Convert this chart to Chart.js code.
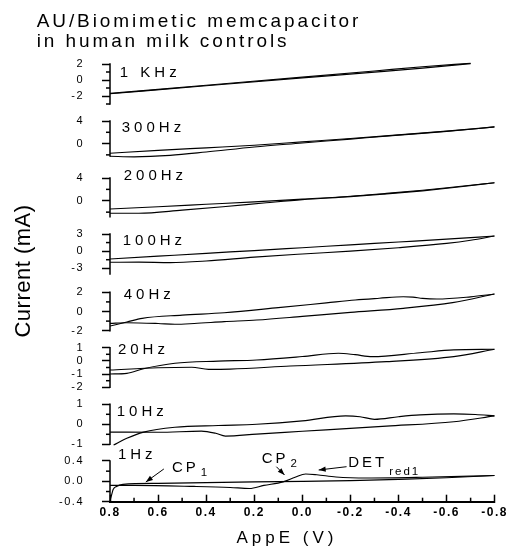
<!DOCTYPE html>
<html>
<head>
<meta charset="utf-8">
<script src="https://cdn.jsdelivr.net/npm/chart.js@4.4.0/dist/chart.umd.min.js"></script>
<style>
  html, body { margin: 0; padding: 0; background: #fff; }
  #c { display: block; }
</style>
</head>
<body>
<canvas id="c" width="516" height="548"></canvas>
<script>
const FONT = "'Liberation Sans', Arial, Helvetica, sans-serif";

// Applied potential (V), scanned between +0.8 and -0.8
const potentialTicks = [0.8, 0.6, 0.4, 0.2, 0.0, -0.2, -0.4, -0.6, -0.8];
const potentialMinorTicks = [0.7, 0.5, 0.3, 0.1, -0.1, -0.3, -0.5, -0.7];

// Panels from top to bottom
const frequencyLabels = ['1 KHz', '300Hz', '200Hz', '100Hz', '40Hz', '20Hz', '10Hz', '1Hz'];

// Current axis (mA) of each panel: visible range, labelled ticks, minor ticks
const currentRanges = [[-3, 2], [-2.2, 4], [-2.8, 4], [-4, 3], [-2, 2], [-2, 1], [-1, 1], [-0.4, 0.4]];
const currentTicks = [[2, 0, -2], [4, 0], [4, 0], [3, 0, -3], [2, 0, -2], [1, 0, -1, -2], [1, 0, -1], [0.4, 0, -0.4]];
const currentMinorTicks = [[1, -1, -3], [2, -2], [2, -2], [1.5, -1.5], [1, -1], [0.5, -0.5, -1.5], [0.5, -0.5], [0.2, -0.2]];

// ---- cyclic voltammograms: potential (V) / current (mA), two branches each ----
// 1 KHz
const E_1k_a = [0.8, 0.4, 0.0, -0.3, -0.5, -0.7];
const I_1k_a = [-1.68, -0.66, 0.36, 1.13, 1.65, 2.1];
const E_1k_b = [0.8, 0.4, 0.0, -0.3, -0.5, -0.7];
const I_1k_b = [-1.72, -0.72, 0.26, 0.98, 1.48, 2.05];
// 300 Hz
const E_300_a = [0.8, 0.6, 0.4, 0.2, 0.0, -0.2, -0.4, -0.6, -0.8];
const I_300_a = [-1.72, -1.2, -0.75, -0.3, 0.3, 0.9, 1.55, 2.2, 2.95];
const E_300_b = [0.8, 0.7, 0.55, 0.4, 0.2, 0.0, -0.2, -0.4, -0.6, -0.8];
const I_300_b = [-2.25, -2.35, -2.1, -1.5, -0.6, 0.1, 0.8, 1.5, 2.15, 2.95];
// 200 Hz
const E_200_a = [0.8, 0.6, 0.4, 0.2, 0.0, -0.2, -0.35, -0.5, -0.65, -0.8];
const I_200_a = [-1.45, -1.05, -0.62, -0.19, 0.3, 0.8, 1.3, 1.85, 2.5, 3.17];
const E_200_b = [0.8, 0.68, 0.5, 0.33, 0.15, 0.0, -0.2, -0.35, -0.5, -0.65, -0.8];
const I_200_b = [-2.2, -2.2, -1.65, -1.05, -0.35, 0.2, 0.72, 1.2, 1.75, 2.42, 3.17];
// 100 Hz
const E_100_a = [0.8, 0.6, 0.4, 0.2, 0.0, -0.2, -0.4, -0.6, -0.8];
const I_100_a = [-1.38, -0.88, -0.38, 0.1, 0.6, 1.1, 1.6, 2.1, 2.65];
const E_100_b = [0.8, 0.68, 0.55, 0.4, 0.2, 0.0, -0.2, -0.4, -0.6, -0.7, -0.8];
const I_100_b = [-1.95, -1.93, -2.0, -1.72, -1.05, -0.5, 0.0, 0.6, 1.35, 1.9, 2.65];
// 40 Hz
const E_40_a = [0.8, 0.73, 0.666, 0.5, 0.325, 0.1, -0.1, -0.22, -0.32, -0.42, -0.46, -0.5, -0.56, -0.7, -0.8];
const I_40_a = [-1.51, -1.1, -0.71, -0.38, -0.13, 0.4, 0.9, 1.2, 1.38, 1.54, 1.5, 1.37, 1.3, 1.53, 1.82];
const E_40_b = [0.8, 0.73, 0.6, 0.53, 0.45, 0.325, 0.19, 0.0, -0.2, -0.42, -0.625, -0.8];
const I_40_b = [-1.23, -1.17, -1.25, -1.33, -1.25, -1.06, -0.89, -0.51, -0.09, 0.33, 0.92, 1.82];
// 20 Hz
const E_20_a = [0.8, 0.73, 0.66, 0.53, 0.35, 0.19, 0.0, -0.15, -0.22, -0.29, -0.49, -0.63, -0.8];
const I_20_a = [-0.99, -0.94, -0.59, -0.18, -0.02, 0.07, 0.33, 0.58, 0.47, 0.32, 0.62, 0.83, 0.88];
const E_20_b = [0.8, 0.6, 0.46, 0.39, 0.3, 0.05, -0.35, -0.63, -0.8];
const I_20_b = [-0.69, -0.52, -0.48, -0.64, -0.62, -0.39, -0.06, 0.32, 0.88];
// 10 Hz
const E_10_a = [0.785, 0.73, 0.66, 0.53, 0.35, 0.19, 0.0, -0.18, -0.24, -0.3, -0.4, -0.49, -0.63, -0.72, -0.8];
const I_10_a = [-1.04, -0.7, -0.39, -0.15, -0.06, 0.0, 0.17, 0.42, 0.38, 0.25, 0.38, 0.47, 0.52, 0.49, 0.42];
const E_10_b = [0.8, 0.6, 0.42, 0.36, 0.32, 0.19, 0.0, -0.35, -0.63, -0.8];
const I_10_b = [-0.39, -0.4, -0.34, -0.45, -0.59, -0.49, -0.35, -0.09, 0.13, 0.42];
// 1 Hz
const E_1_a = [0.8, 0.793, 0.787, 0.773, 0.746, 0.6, 0.4, 0.2, 0.0, -0.2, -0.4, -0.6, -0.8];
const I_1_a = [-0.38, -0.26, -0.16, -0.1, -0.06, -0.04, -0.025, -0.01, 0.0, 0.015, 0.04, 0.07, 0.115];
const E_1_b = [0.8, 0.7, 0.45, 0.3, 0.22, 0.16, 0.08, 0.03, -0.014, -0.06, -0.14, -0.27, -0.5, -0.8];
const I_1_b = [-0.08, -0.08, -0.1, -0.12, -0.14, -0.08, -0.01, 0.08, 0.145, 0.13, 0.085, 0.065, 0.08, 0.115];

const loops = [
  [[E_1k_a, I_1k_a], [E_1k_b, I_1k_b]],
  [[E_300_a, I_300_a], [E_300_b, I_300_b]],
  [[E_200_a, I_200_a], [E_200_b, I_200_b]],
  [[E_100_a, I_100_a], [E_100_b, I_100_b]],
  [[E_40_a, I_40_a], [E_40_b, I_40_b]],
  [[E_20_a, I_20_a], [E_20_b, I_20_b]],
  [[E_10_a, I_10_a], [E_10_b, I_10_b]],
  [[E_1_a, I_1_a], [E_1_b, I_1_b]]
];

// ---- panel layout: share of the plot height and full scale limits (incl. gap) ----
const panelStackWeights = [56.5, 54.5, 58.3, 57.9, 56, 56.6, 56.9, 49];
const panelScaleLimits = [[-4.0625, 3], [-4.149, 5.506], [-4.311, 5.933], [-5.61, 4.523],
                          [-2.885, 2.948], [-2.644, 1.644], [-1.42, 1.425], [-0.4, 0.563]];
// where each frequency label sits, in (potential, current) of its panel
const panelLabelAt = [[0.759, 0.875], [0.751, 2.71], [0.743, 4.39], [0.747, 1.87],
                      [0.743, 1.72], [0.767, 0.83], [0.772, 0.615], [0.767, 0.518]];

// peak annotations on the 1 Hz panel: text baseline start, arrow tail, arrow tip
const peakNotes = [
  { main: 'CP', sub: '1', text: [0.542, 0.19], tail: [0.576, 0.243], tip: [0.651, -0.013], subDy: 4.5 },
  { main: 'CP', sub: '2', text: [0.169, 0.367], tail: [0.108, 0.288], tip: [0.074, 0.125], subDy: 4.5 },
  { main: 'DET', sub: 'red1', text: [-0.191, 0.276], tail: [-0.184, 0.288], tip: [-0.068, 0.223], subDy: 7.5 }
];

const fmtPotential = v => (Math.abs(v) < 1e-9 ? '0.0' : v.toFixed(1));

const datasets = [];
loops.forEach((pair, i) => {
  pair.forEach(([E, I]) => {
    datasets.push({
      data: E.map((e, k) => ({ x: e, y: I[k] })),
      xAxisID: 'x',
      yAxisID: 'y' + i,
      borderColor: '#000',
      borderWidth: 1.15,
      pointRadius: 0,
      pointHoverRadius: 0,
      fill: false,
      cubicInterpolationMode: 'monotone'
    });
  });
});

const scales = {
  x: {
    type: 'linear',
    position: 'bottom',
    min: -0.8,
    max: 0.8,
    reverse: true,
    afterFit(s) { s.height = 46.3; },
    afterBuildTicks(s) { s.ticks = potentialTicks.map(v => ({ value: v })); },
    border: { display: true, color: '#000', width: 2 },
    grid: { drawOnChartArea: false, drawTicks: true, tickLength: -7, tickWidth: 1.5, tickColor: '#000' },
    ticks: {
      autoSkip: false, maxRotation: 0, padding: 11, color: '#000',
      font: { family: FONT, size: 12, weight: 'bold' },
      callback: v => fmtPotential(v)
    }
  }
};

currentRanges.forEach((r, i) => {
  const decimals = i === currentRanges.length - 1;
  scales['y' + i] = {
    type: 'linear',
    position: 'left',
    stack: 'panels',
    stackWeight: panelStackWeights[i],
    weight: currentRanges.length - i,
    min: panelScaleLimits[i][0],
    max: panelScaleLimits[i][1],
    afterFit(s) { s.width = 110; },
    afterBuildTicks(s) { s.ticks = currentTicks[i].map(v => ({ value: v })); },
    border: { display: false },
    grid: { display: true, drawOnChartArea: false, drawTicks: true, tickLength: 8, tickWidth: 1.5, tickColor: '#000' },
    ticks: {
      autoSkip: false, padding: 18, color: '#000',
      font: { family: FONT, size: 11 },
      callback: v => (decimals ? fmtPotential(v) : String(v))
    }
  };
});

function strokeLine(ctx, x0, y0, x1, y1) {
  ctx.beginPath(); ctx.moveTo(x0, y0); ctx.lineTo(x1, y1); ctx.stroke();
}

function arrow(ctx, x0, y0, x1, y1) {
  strokeLine(ctx, x0, y0, x1, y1);
  const a = Math.atan2(y1 - y0, x1 - x0), L = 7, W = 2.6;
  ctx.beginPath();
  ctx.moveTo(x1, y1);
  ctx.lineTo(x1 - L * Math.cos(a) + W * Math.sin(a), y1 - L * Math.sin(a) - W * Math.cos(a));
  ctx.lineTo(x1 - L * Math.cos(a) - W * Math.sin(a), y1 - L * Math.sin(a) + W * Math.cos(a));
  ctx.closePath();
  ctx.fill();
}

const decor = {
  id: 'decor',
  beforeDraw(chart) {
    chart.ctx.letterSpacing = '1.5px';
  },
  afterDraw(chart) {
    const ctx = chart.ctx;
    const xs = chart.scales.x;
    const left = chart.chartArea.left;
    ctx.save();
    ctx.letterSpacing = '0px';
    ctx.strokeStyle = '#000';
    ctx.fillStyle = '#000';
    ctx.lineWidth = 1.5;

    // axis spine and minor ticks of every current axis
    currentRanges.forEach((r, i) => {
      const ys = chart.scales['y' + i];
      strokeLine(ctx, left, ys.getPixelForValue(r[1]) - 0.75, left, ys.getPixelForValue(r[0]) + 0.75);
      currentMinorTicks[i].forEach(v => {
        const y = ys.getPixelForValue(v);
        strokeLine(ctx, left - 4, y, left, y);
      });
    });
    // minor ticks of the potential axis (pointing up)
    potentialMinorTicks.forEach(v => {
      const x = xs.getPixelForValue(v);
      strokeLine(ctx, x, xs.top, x, xs.top - 4);
    });

    // frequency labels
    ctx.font = `15px ${FONT}`;
    ctx.letterSpacing = '4px';
    ctx.textAlign = 'left';
    ctx.textBaseline = 'middle';
    frequencyLabels.forEach((t, i) => {
      const ys = chart.scales['y' + i];
      ctx.fillText(t, xs.getPixelForValue(panelLabelAt[i][0]), ys.getPixelForValue(panelLabelAt[i][1]));
    });

    // peak annotations on the 1 Hz curve
    const y1 = chart.scales['y' + (currentRanges.length - 1)];
    const px = p => [xs.getPixelForValue(p[0]), y1.getPixelForValue(p[1])];
    ctx.textBaseline = 'alphabetic';
    ctx.lineWidth = 1;
    peakNotes.forEach(n => {
      const [tx, ty] = px(n.text);
      ctx.font = `15px ${FONT}`;
      ctx.letterSpacing = '3px';
      ctx.fillText(n.main, tx, ty);
      const w = ctx.measureText(n.main).width;
      ctx.font = `11.5px ${FONT}`;
      ctx.letterSpacing = '2px';
      ctx.fillText(n.sub, tx + w + 2, ty + n.subDy);
      const [ax, ay] = px(n.tail);
      const [bx, by] = px(n.tip);
      arrow(ctx, ax, ay, bx, by);
    });

    // chart title
    ctx.font = `19px ${FONT}`;
    ctx.letterSpacing = '2.9px';
    ctx.textAlign = 'left';
    ctx.fillText('AU/Biomimetic memcapacitor', 36.7, 27.3);
    ctx.fillText('in human milk controls', 36.7, 46.7);

    // axis titles
    ctx.font = `17px ${FONT}`;
    ctx.letterSpacing = '4px';
    ctx.textAlign = 'center';
    ctx.fillText('AppE (V)', 287, 543);

    ctx.save();
    ctx.translate(24, 271);
    ctx.rotate(-Math.PI / 2);
    ctx.font = `22px ${FONT}`;
    ctx.letterSpacing = '0.5px';
    ctx.textBaseline = 'middle';
    ctx.fillText('Current (mA)', 0, 0);
    ctx.restore();

    ctx.restore();
  }
};

new Chart(document.getElementById('c'), {
  type: 'line',
  data: { datasets },
  options: {
    responsive: false,
    devicePixelRatio: 1,
    animation: false,
    events: [],
    layout: { padding: { top: 56, right: 13, bottom: 0, left: 0 } },
    plugins: { legend: { display: false }, title: { display: false }, tooltip: { enabled: false } },
    scales
  },
  plugins: [decor]
});
</script>
</body>
</html>
